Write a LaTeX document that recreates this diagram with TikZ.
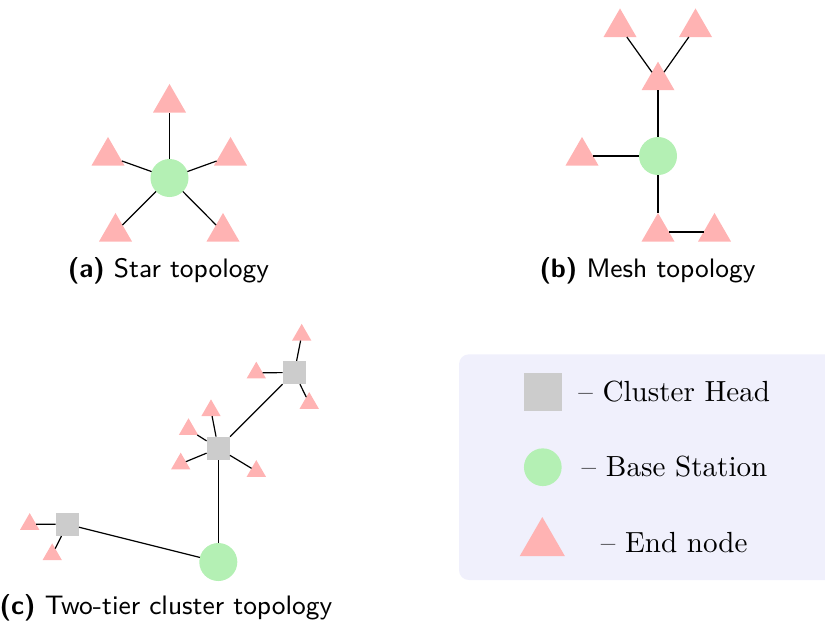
\documentclass[tikz,border=0pt]{standalone}
\usetikzlibrary{shapes.geometric}
\definecolor{bsgreen}{RGB}{180,240,180}
\definecolor{endpink}{RGB}{255,179,179}
\definecolor{chgray}{RGB}{204,204,204}
\definecolor{legbg}{RGB}{240,240,252}
\begin{document}
\begin{tikzpicture}[x=0.3333pt,y=-0.3333pt,
  bsnode/.style={circle,fill=bsgreen,inner sep=0pt,outer sep=0pt,minimum size=12.67pt},
  endbig/.style={regular polygon,regular polygon sides=3,fill=endpink,inner sep=0pt,outer sep=0pt,minimum size=12.7pt},
  endsmall/.style={regular polygon,regular polygon sides=3,fill=endpink,inner sep=0pt,outer sep=0pt,minimum size=7.43pt},
  chnode/.style={rectangle,fill=chgray,inner sep=0pt,outer sep=0pt,minimum size=7.78pt},
  link/.style={draw=black,line width=0.4pt},
  captxt/.style={font=\sffamily\fontsize{8.9}{10.7}\selectfont,inner sep=0pt},
  legtxt/.style={font=\rmfamily\fontsize{9.7}{11.6}\selectfont,inner sep=0pt}]
\clip (0,0) rectangle (825,628);
% (a) star
\node[bsnode] (a-bs) at (169.5,178) {};
\node[endbig] (a-t1) at (169.5,103) {};
\node[endbig] (a-t2) at (108,156) {};
\node[endbig] (a-t3) at (230.5,156) {};
\node[endbig] (a-t4) at (115.5,232) {};
\node[endbig] (a-t5) at (223,232) {};
\foreach \t in {a-t1,a-t2,a-t3,a-t4,a-t5} \draw[link] (a-bs) -- (\t);
\node[captxt] (a-cap) at (168.5,271) {\textbf{(a)} Star topology};
% (b) mesh
\node[bsnode] (b-bs) at (658,156) {};
\node[endbig] (b-tl) at (620,27.5) {};
\node[endbig] (b-tr) at (695.5,27.5) {};
\node[endbig] (b-m) at (658,80.7) {};
\node[endbig] (b-l) at (582,156) {};
\node[endbig] (b-b) at (658,232) {};
\node[endbig] (b-br) at (714.5,232) {};
\draw[link] (b-tl) -- (b-m);
\draw[link] (b-tr) -- (b-m);
\draw[link] (b-m) -- (b-bs);
\draw[link] (b-l) -- (b-bs);
\draw[link] (b-bs) -- (b-b);
\draw[link] (b-b) -- (b-br);
\node[captxt] (b-cap) at (647.5,271) {\textbf{(b)} Mesh topology};
% (c) two-tier cluster
\node[bsnode] (c-bs) at (218.3,562) {};
\node[chnode] (c-ch1) at (218.3,448.3) {};
\node[chnode] (c-ch2) at (294.3,372.5) {};
\node[chnode] (c-ch3) at (67.3,524.3) {};
\node[endsmall] (c-e21) at (301.7,335) {};
\node[endsmall] (c-e22) at (256.3,372.8) {};
\node[endsmall] (c-e23) at (309.2,403.2) {};
\node[endsmall] (c-e11) at (211,410.5) {};
\node[endsmall] (c-e12) at (188.5,429.4) {};
\node[endsmall] (c-e13) at (180.7,463.8) {};
\node[endsmall] (c-e14) at (256.3,471.2) {};
\node[endsmall] (c-e31) at (29.7,524.2) {};
\node[endsmall] (c-e32) at (52.2,554.5) {};
\draw[link] (c-bs) -- (c-ch1);
\draw[link] (c-bs) -- (c-ch3);
\draw[link] (c-ch1) -- (c-ch2);
\foreach \t in {c-e21,c-e22,c-e23} \draw[link] (c-ch2) -- (\t);
\foreach \t in {c-e11,c-e12,c-e13,c-e14} \draw[link] (c-ch1) -- (\t);
\foreach \t in {c-e31,c-e32} \draw[link] (c-ch3) -- (\t);
\node[captxt] (c-cap) at (166,608) {\textbf{(c)} Two-tier cluster topology};
% legend
\fill[legbg,rounded corners=3.3pt] (459,354.3) rectangle (860,580);
\node[chnode,minimum size=12.57pt] (l-ch) at (542.8,392) {};
\node[bsnode,minimum size=12.57pt] (l-bs) at (542.8,467.2) {};
\node[endbig,minimum size=17.4pt] (l-end) at (542.3,543.1) {};
\node[legtxt] (l-cht) at (674.2,392) {-- Cluster Head};
\node[legtxt] (l-bst) at (674.5,467) {-- Base Station};
\node[legtxt] (l-endt) at (674.2,543) {-- End node};
\end{tikzpicture}
\end{document}
